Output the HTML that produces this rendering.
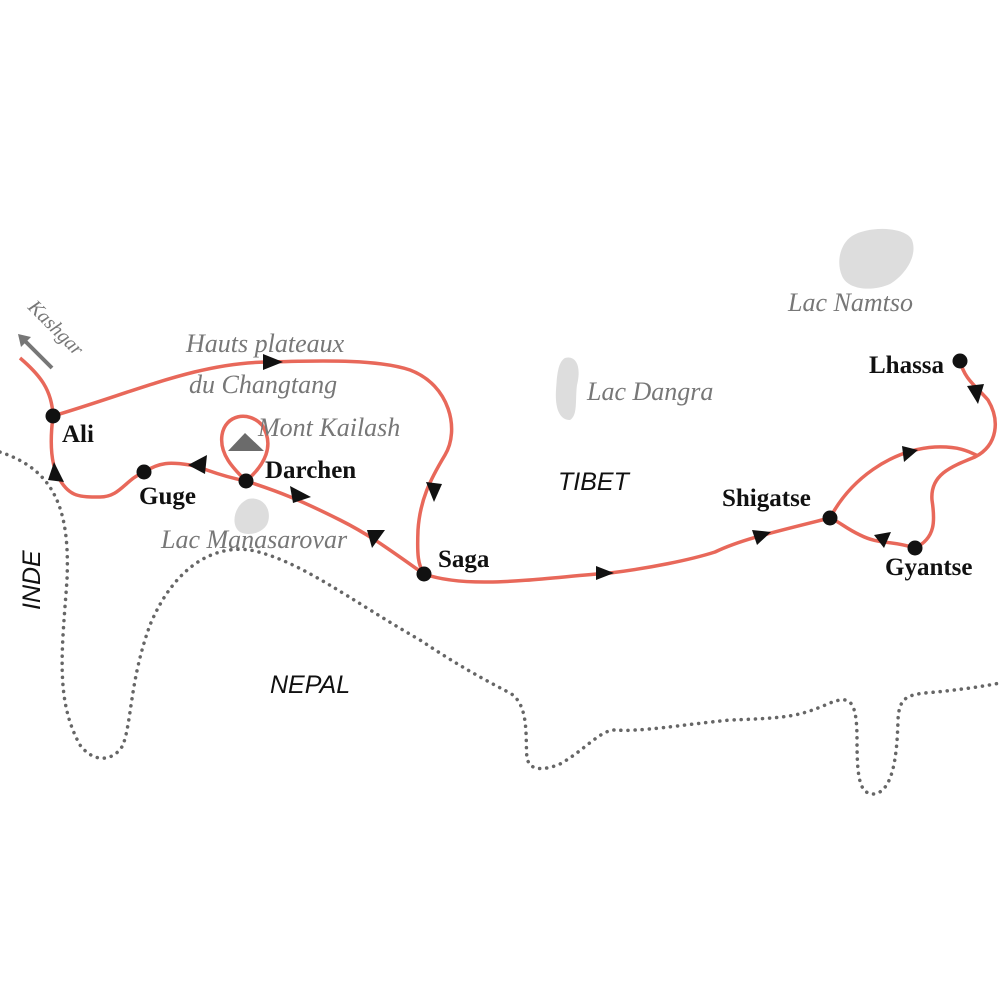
<!DOCTYPE html>
<html><head><meta charset="utf-8"><style>
html,body{margin:0;padding:0;background:#fff;}
svg{display:block}
.l{font-family:"Liberation Serif",serif;font-style:italic;fill:#777;font-size:26px}
.c{font-family:"Liberation Serif",serif;font-weight:bold;fill:#111;font-size:25px}
.k{font-family:"Liberation Sans",sans-serif;font-style:italic;fill:#111;font-size:25px}
</style></head><body>
<svg width="1000" height="1000" viewBox="0 0 1000 1000">
<!-- lakes -->
<path d="M852 236 C868 226 905 226 912 240 C918 256 905 275 890 284 C872 292 848 290 842 276 C836 262 840 244 852 236Z" fill="#ddd"/>
<path d="M565 358 C575 355 582 365 577 385 C575 400 578 415 570 420 C558 420 555 405 556 390 C557 375 558 362 565 358Z" fill="#ddd"/>
<path d="M248 499 C262 496 272 508 268 522 C265 532 250 537 240 532 C230 525 234 505 248 499Z" fill="#ddd"/>
<!-- border -->
<path d="M0 452 C55 470 70 510 67 580 C62 650 55 700 80 745 C95 765 115 760 123 745 C132 720 130 680 150 625 C175 565 215 545 250 550 C300 560 350 600 420 640 C450 660 475 675 510 693 C530 705 525 740 527 758 C530 772 545 770 560 764 C585 750 600 730 615 730 C640 732 680 725 730 720 C790 718 800 716 830 703 C850 695 857 700 857 740 C857 780 860 795 875 794 C892 790 897 760 898 720 C899 700 905 695 925 693 C960 690 985 686 1000 683" fill="none" stroke="#666" stroke-width="3.5" stroke-dasharray="0.1 7" stroke-linecap="round"/>
<!-- routes -->
<g fill="none" stroke="#e8685a" stroke-width="3.5">
<path d="M20 358 C40 375 52 390 53 416"/>
<path d="M53 416 C140 390 200 362 270 362 C330 360 380 360 410 370 C450 385 460 430 445 455 C430 480 420 500 418 530 C417 555 418 565 424 574"/>
<path d="M424 574 C390 550 370 535 340 520 C300 500 280 492 246 481"/>
<path d="M246 481 C265 465 275 445 262 425 C248 410 225 415 222 435 C219 455 235 470 246 481"/>
<path d="M246 481 C215 475 205 468 190 465 C170 462 160 462 144 472 C125 480 120 497 100 497 C80 497 70 497 60 480 C50 465 50 440 53 416"/>
<path d="M424 574 C470 590 540 578 610 573 C650 568 690 560 715 552 C740 540 770 533 830 518"/>
<path d="M830 518 C850 480 890 450 935 447 C960 446 970 452 978 456"/>
<path d="M960 361 C965 380 975 385 988 400 C1000 420 998 445 975 457 C950 467 930 475 932 500 C935 520 936 538 915 548"/>
<path d="M915 548 C890 540 880 545 860 535 C845 528 840 522 830 518"/>
</g>
<!-- arrows -->
<g fill="#111">
<polygon points="263,354 283,362 263,370"/>
<polygon points="426,482 434,502 442,484"/>
<polygon points="290,486 311,497 293,503"/>
<polygon points="385,530 372,548 367,530"/>
<polygon points="188,465 207,455 205,474"/>
<polygon points="54,462 64,482 48,480"/>
<polygon points="596,566 614,573 596,580"/>
<polygon points="752,530 771,532 757,545"/>
<polygon points="902,446 918,450 904,462"/>
<polygon points="967,386 984,384 978,404"/>
<polygon points="874,535 884,548 891,532"/>
</g>
<!-- cities -->
<g fill="#111">
<circle cx="53" cy="416" r="7.5"/><circle cx="144" cy="472" r="7.5"/><circle cx="246" cy="481" r="7.5"/>
<circle cx="424" cy="574" r="7.5"/><circle cx="830" cy="518" r="7.5"/><circle cx="915" cy="548" r="7.5"/><circle cx="960" cy="361" r="7.5"/>
</g>
<polygon points="228,451 245,433 264,451" fill="#6b6b6b"/>
<!-- Kashgar arrow -->
<line x1="52" y1="368" x2="24" y2="340" stroke="#777" stroke-width="4"/>
<polygon points="18,334 31,337 21,347" fill="#777"/>
<text class="l" style="font-size:20px" transform="translate(27,308) rotate(45)">Kashgar</text>
<text class="c" x="62" y="442">Ali</text>
<text class="c" x="139" y="504">Guge</text>
<text class="c" x="265" y="478">Darchen</text>
<text class="c" x="438" y="567">Saga</text>
<text class="c" x="722" y="506">Shigatse</text>
<text class="c" x="885" y="575">Gyantse</text>
<text class="c" x="869" y="373">Lhassa</text>
<text class="l" x="186" y="352">Hauts plateaux</text>
<text class="l" x="189" y="393">du Changtang</text>
<text class="l" x="258" y="436">Mont Kailash</text>
<text class="l" x="161" y="548">Lac Manasarovar</text>
<text class="l" x="587" y="400">Lac Dangra</text>
<text class="l" x="788" y="311">Lac Namtso</text>
<text class="k" x="558" y="490">TIBET</text>
<text class="k" x="270" y="693">NEPAL</text>
<text class="k" transform="translate(40,610) rotate(-90)">INDE</text>
</svg>
</body></html>
